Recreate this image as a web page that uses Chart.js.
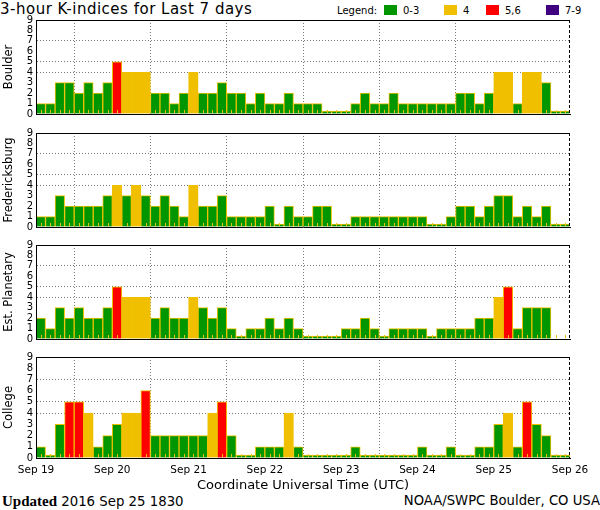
<!DOCTYPE html>
<html>
<head>
<meta charset="utf-8">
<script src="https://cdn.jsdelivr.net/npm/chart.js"></script>
<style>
body { margin: 0; background: #fff; }
#wrap { position: relative; width: 600px; height: 510px; overflow: hidden; font-family: "DejaVu Sans", sans-serif; color: #000; }
canvas { position: absolute; left: 0; }
.txt { position: absolute; white-space: nowrap; line-height: 1; }
.box { position: absolute; top: 5px; width: 13px; height: 10px; }
</style>
</head>
<body>
<div id="wrap">
  <div class="txt" style="left:0;top:2px;font-size:15px;letter-spacing:0.5px">3-hour K-indices for Last 7 days</div>
  <div class="txt" style="left:337px;top:6px;font-size:10px">Legend:</div>
  <div class="box" style="left:384px;background:#009600"></div>
  <div class="txt" style="left:403px;top:6px;font-size:10px">0-3</div>
  <div class="box" style="left:444px;background:#f0c000"></div>
  <div class="txt" style="left:463px;top:6px;font-size:10px">4</div>
  <div class="box" style="left:486px;background:#ff0000"></div>
  <div class="txt" style="left:505px;top:6px;font-size:10px">5,6</div>
  <div class="box" style="left:546px;background:#400080"></div>
  <div class="txt" style="left:565px;top:6px;font-size:10px">7-9</div>

  <canvas id="c0" width="600" height="112" style="top:11px"></canvas>
  <canvas id="c1" width="600" height="112" style="top:124px"></canvas>
  <canvas id="c2" width="600" height="112" style="top:236px"></canvas>
  <canvas id="c3" width="600" height="145" style="top:348px"></canvas>

  <div class="txt" style="left:2px;top:494px;font-size:13.3px"><b style="font-family:'Liberation Serif',serif;font-size:15px">Updated</b> 2016 Sep 25 1830</div>
  <div class="txt" style="right:0;top:494px;font-size:13.2px">NOAA/SWPC Boulder, CO USA</div>
</div>
<script>
// 3-hour K index, 8 slots per day, Sep 19 .. Sep 25
const boulder = [1,1,3,3,2,3,2,3, 5,4,4,4,2,2,1,2, 4,2,2,3,2,2,1,2, 1,1,2,1,1,1,0,0,
                 0,1,2,1,1,2,1,1, 1,1,1,1,2,2,1,2, 4,4,1,4,4,3,0,0];
const fredericksburg = [1,1,3,2,2,2,2,3, 4,3,4,3,2,3,2,1, 4,2,2,3,1,1,1,1, 2,0,2,1,1,2,2,0,
                        0,1,1,1,1,1,1,1, 1,0,0,1,2,2,1,2, 3,3,1,2,1,2,0,0];
const planetary = [2,1,3,2,3,2,2,3, 5,4,4,4,2,3,2,2, 4,3,2,3,1,0,1,1, 2,1,2,1,0,0,0,0,
                   1,1,2,1,0,1,1,1, 1,0,1,1,1,1,2,2, 4,5,1,3,3,3,null,null];
const college = [1,0,3,5,5,4,1,2, 3,4,4,6,2,2,2,2, 2,2,4,5,2,0,0,1, 1,1,4,1,0,0,0,0,
                 0,1,0,0,0,0,0,0, 1,0,0,1,0,0,1,1, 3,4,1,5,3,2,0,0];

const stations = ['Boulder', 'Fredericksburg', 'Est. Planetary', 'College'];
const series = [boulder, fredericksburg, planetary, college];
const dayLabels = ['Sep 19', 'Sep 20', 'Sep 21', 'Sep 22', 'Sep 23', 'Sep 24', 'Sep 25', 'Sep 26'];
const dottedLevels = [4, 5, 7];

const GREEN = '#009600', YELLOW = '#f0c000', RED = '#ff0000', PURPLE = '#400080';
const GRID = '#7a7a7a';

function kColor(v) {
  if (v == null) return 'rgba(0,0,0,0)';
  if (v >= 7) return PURPLE;
  if (v >= 5) return RED;
  if (v >= 4) return YELLOW;
  return GREEN;
}

// top line, dashed right edge and the little yellow slot ticks
const frame = {
  id: 'frame',
  afterDatasetsDraw(chart) {
    const { ctx, chartArea: a, scales: { x } } = chart;
    ctx.save();
    ctx.lineWidth = 1;
    ctx.strokeStyle = YELLOW;
    ctx.beginPath();
    for (let i = 0; i < 56; i++) {
      const px = Math.round(x.getPixelForValue(i + 0.5)) + 0.5;
      ctx.moveTo(px, a.bottom - 1);
      ctx.lineTo(px, a.bottom - 4);
    }
    ctx.stroke();
    ctx.strokeStyle = '#000';
    ctx.beginPath();
    ctx.moveTo(a.left, Math.round(a.top) + 0.5);
    ctx.lineTo(a.right, Math.round(a.top) + 0.5);
    ctx.stroke();
    ctx.setLineDash([3, 2]);
    ctx.beginPath();
    ctx.moveTo(Math.round(a.right) - 0.5, a.top);
    ctx.lineTo(Math.round(a.right) - 0.5, a.bottom);
    ctx.stroke();
    ctx.restore();
  }
};

function makePanel(id, label, values, isBottom) {
  const points = values.map((v, i) => ({ x: i + 0.5, y: v }));
  return new Chart(document.getElementById(id), {
    type: 'bar',
    data: {
      datasets: [{
        data: points,
        backgroundColor: c => kColor(c.raw ? c.raw.y : null),
        borderColor: YELLOW,
        borderWidth: 1,
        barPercentage: 1,
        categoryPercentage: 1,
        minBarLength: 3
      }]
    },
    options: {
      responsive: false,
      animation: false,
      layout: { padding: { top: 8, bottom: isBottom ? 0 : 2, left: 0, right: 30 } },
      plugins: { legend: { display: false }, tooltip: { enabled: false } },
      scales: {
        x: {
          type: 'linear', min: 0, max: 56, offset: false,
          afterFit: s => { s.height = isBottom ? 35 : 0; },
          ticks: {
            display: isBottom, stepSize: 8, autoSkip: false, maxRotation: 0, padding: 6,
            color: '#000', font: { family: 'DejaVu Sans', size: 10.5 },
            callback: v => dayLabels[v / 8]
          },
          grid: {
            drawTicks: false,
            color: c => (c.tick && c.tick.value > 0 && c.tick.value < 56) ? GRID : 'rgba(0,0,0,0)'
          },
          border: { color: '#000', width: 1, dash: [1, 2], z: 1 },
          title: {
            display: isBottom, text: 'Coordinate Universal Time (UTC)', color: '#000',
            font: { family: 'DejaVu Sans', size: 13 }, padding: 0
          }
        },
        y: {
          min: 0, max: 9,
          afterFit: s => { s.width = 36; },
          ticks: {
            stepSize: 1, autoSkip: false, padding: 3, color: '#000',
            font: { family: 'DejaVu Sans', size: 10 }
          },
          grid: {
            drawTicks: false,
            color: c => (c.tick && dottedLevels.includes(c.tick.value)) ? GRID : 'rgba(0,0,0,0)'
          },
          border: { color: '#000', width: 1, dash: [1, 2], z: 1 },
          title: {
            display: true, text: label, color: '#000',
            font: { family: 'DejaVu Sans', size: 11.5 }, padding: { top: 2, bottom: 0 }
          }
        }
      }
    },
    plugins: [frame]
  });
}

stations.forEach((name, k) => makePanel('c' + k, name, series[k], k === 3));
</script>
</body>
</html>
